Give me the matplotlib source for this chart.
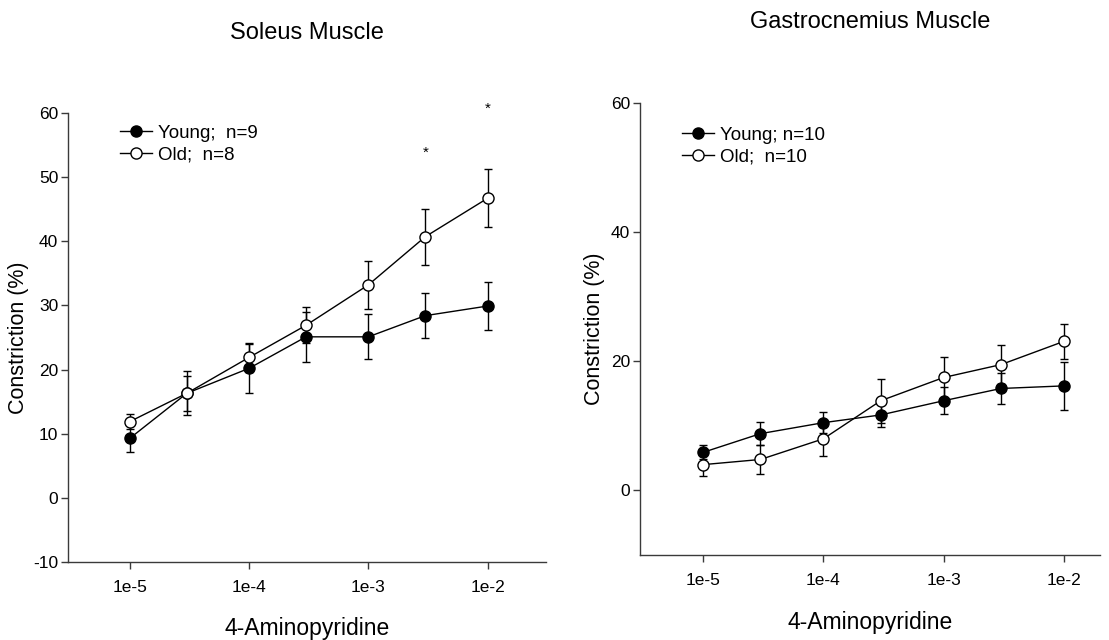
import matplotlib

matplotlib.use("Agg")

import matplotlib.pyplot as plt
from matplotlib.lines import Line2D
import numpy as np

plt.rcParams["font.family"] = ["Liberation Sans", "DejaVu Sans"]
plt.rcParams["axes.unicode_minus"] = False

# 4-AP concentrations (M)
doses = [1e-5, 3e-5, 1e-4, 3e-4, 1e-3, 3e-3, 1e-2]
tick_doses = [1e-5, 1e-4, 1e-3, 1e-2]
tick_labels = ["1e-5", "1e-4", "1e-3", "1e-2"]

# Soleus
sol_young = [9.3, 16.3, 20.2, 25.1, 25.1, 28.4, 29.9]
sol_young_err = [2.1, 2.7, 3.8, 3.9, 3.5, 3.5, 3.8]
sol_old = [11.9, 16.3, 21.9, 26.9, 33.2, 40.7, 46.7]
sol_old_err = [1.1, 3.4, 2.3, 2.8, 3.7, 4.4, 4.5]
sol_stars_x = [3e-3, 1e-2]
sol_stars_y = [53.8, 60.6]

# Gastrocnemius
gas_young = [5.9, 8.8, 10.5, 11.7, 13.9, 15.8, 16.2]
gas_young_err = [1.1, 1.8, 1.6, 1.8, 2.1, 2.4, 3.7]
gas_old = [4.0, 4.8, 8.0, 13.9, 17.5, 19.5, 23.1]
gas_old_err = [1.7, 2.3, 2.6, 3.4, 3.1, 3.0, 2.7]

AXIS_COLOR = "#3a3a3a"


def style_axes(ax, xlim, yticks):
    ax.set_xscale("log")
    ax.set_xlim(*xlim)
    ax.set_ylim(-10, 60)
    ax.set_xticks(tick_doses)
    ax.set_xticklabels(tick_labels)
    ax.xaxis.set_minor_locator(matplotlib.ticker.NullLocator())
    ax.set_yticks(yticks)
    for side in ("top", "right"):
        ax.spines[side].set_visible(False)
    for side in ("left", "bottom"):
        ax.spines[side].set_color(AXIS_COLOR)
        ax.spines[side].set_linewidth(1.0)
    ax.tick_params(axis="x", direction="out", length=5, width=1, color=AXIS_COLOR,
                   labelsize=12.5, pad=8)
    ax.tick_params(axis="y", direction="out", length=5, width=1, color=AXIS_COLOR,
                   labelsize=12.5, pad=2)
    ax.set_xlabel("4-Aminopyridine", fontsize=16.5)
    ax.set_ylabel("Constriction (%)", fontsize=15.5)


def plot_group(ax, young, young_err, old, old_err):
    kw = dict(color="black", linewidth=1.0, markersize=8, capsize=3,
              elinewidth=1.0, capthick=1.0, markeredgewidth=1.0)
    ax.errorbar(doses, young, yerr=young_err, marker="o", markerfacecolor="black",
                markeredgecolor="black", zorder=3, **kw)
    ax.errorbar(doses, old, yerr=old_err, marker="o", markerfacecolor="white",
                markeredgecolor="black", zorder=4, **kw)


def legend_handles():
    young = Line2D([], [], color="black", lw=1.0, marker="o", markersize=8,
                   markerfacecolor="black", markeredgecolor="black")
    old = Line2D([], [], color="black", lw=1.0, marker="o", markersize=8,
                 markerfacecolor="white", markeredgecolor="black")
    return [young, old]


fig = plt.figure(figsize=(11.09, 6.4), dpi=100)
ax1 = fig.add_axes([0.0613, 0.1219, 0.431, 0.7016])
ax2 = fig.add_axes([0.5771, 0.1328, 0.4148, 0.706])

plot_group(ax1, sol_young, sol_young_err, sol_old, sol_old_err)
style_axes(ax1, (10 ** -5.52, 10 ** -1.51), np.arange(-10, 61, 10))
ax1.yaxis.set_label_coords(-0.082, 0.5)
ax1.xaxis.set_label_coords(0.5, -0.122)
for sx, sy in zip(sol_stars_x, sol_stars_y):
    ax1.text(sx, sy, "*", ha="center", va="center", fontsize=11, clip_on=False)

plot_group(ax2, gas_young, gas_young_err, gas_old, gas_old_err)
style_axes(ax2, (10 ** -5.524, 10 ** -1.7), [0, 20, 40, 60])
ax2.yaxis.set_label_coords(-0.076, 0.5)
ax2.xaxis.set_label_coords(0.5, -0.124)

legend_kw = dict(loc="upper left", frameon=False, fontsize=13.5, borderpad=0,
                 borderaxespad=0, handlelength=1.7, handletextpad=0.35,
                 labelspacing=0.25, bbox_transform=fig.transFigure)
ax1.legend(legend_handles(), ["Young;  n=9", "Old;  n=8"],
           bbox_to_anchor=(0.108, 0.805), **legend_kw)
ax2.legend(legend_handles(), ["Young; n=10", "Old;  n=10"],
           bbox_to_anchor=(0.615, 0.802), **legend_kw)

fig.text(0.277, 0.948, "Soleus Muscle", ha="center", va="center", fontsize=17)
fig.text(0.785, 0.966, "Gastrocnemius Muscle", ha="center", va="center", fontsize=17)

fig.savefig("out.png", dpi=100)
plt.close(fig)
